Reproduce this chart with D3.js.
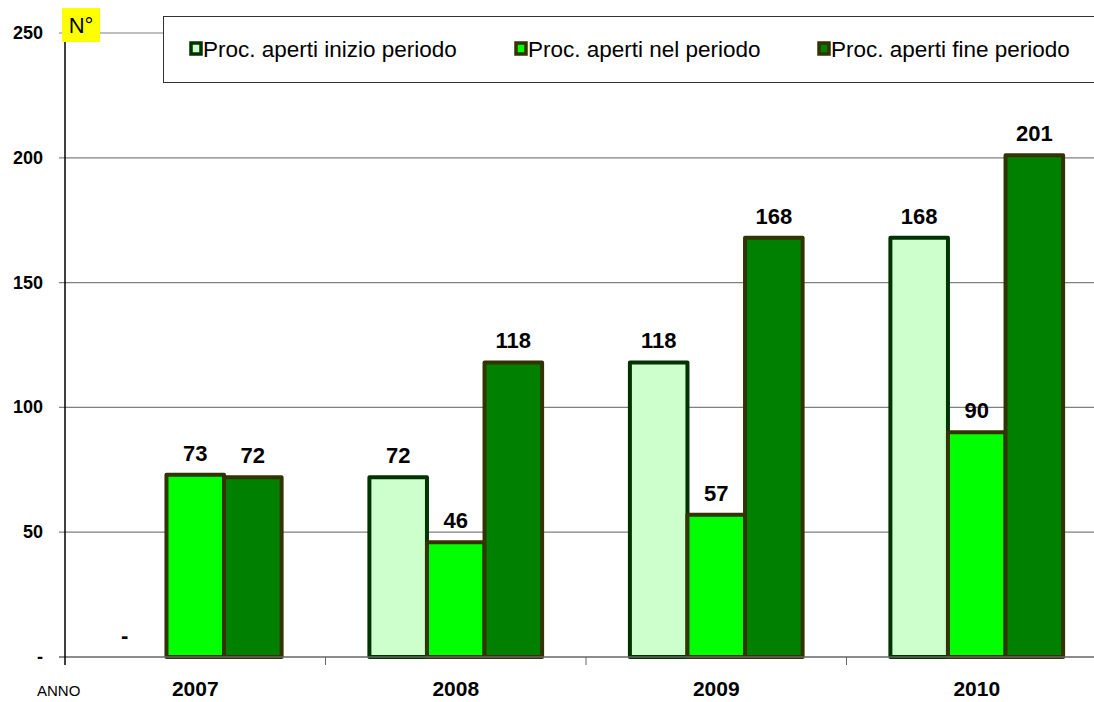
<!DOCTYPE html>
<html>
<head>
<meta charset="utf-8">
<script src="https://cdn.jsdelivr.net/npm/d3@7"></script>
<style>
  body { margin: 0; background: #fff; }
  text { font-family: "Liberation Sans", Arial, sans-serif; }
</style>
</head>
<body>
<div id="chart"></div>
<script>
let years = ['2007', '2008', '2009', '2010']
let series = ['Proc. aperti inizio periodo', 'Proc. aperti nel periodo', 'Proc. aperti fine periodo']
let inizio = [0, 72, 118, 168]
let nel = [73, 46, 57, 90]
let fine = [72, 118, 168, 201]
let yTicks = [0, 50, 100, 150, 200, 250]

let fills = ['#ccffcc', '#00ff00', '#008000']
let strokes = ['#003300', '#333300', '#333300']

let w_full = 1094
let h_full = 702
let margin = {top: 33, left: 65}
let plot_right = 1107
let plot_bottom = 657

let values = [inizio, nel, fine]
let data = []
years.forEach(function(yr, i) {
    series.forEach(function(s, j) {
        data.push({year: yr, series: s, idx: j, value: values[j][i]})
    })
})

const svg = d3.select('#chart')
    .append('svg')
    .attr('width', w_full)
    .attr('height', h_full)

const x = d3.scaleBand()
    .domain(years)
    .range([margin.left, plot_right])
    .paddingInner(0.337)
    .paddingOuter(0.1685)

const xSub = d3.scaleBand()
    .domain(series)
    .range([0, x.bandwidth()])

const y = d3.scaleLinear()
    .domain([0, 250])
    .range([plot_bottom, margin.top])

// gridlines
svg.append('g')
    .selectAll('line')
    .data(yTicks.filter(d => d > 0))
    .join('line')
    .attr('x1', margin.left - 6)
    .attr('x2', plot_right)
    .attr('y1', d => y(d))
    .attr('y2', d => y(d))
    .attr('stroke', '#808080')
    .attr('stroke-width', 1.2)

// y tick labels
svg.append('g')
    .selectAll('text')
    .data(yTicks)
    .join('text')
    .attr('x', 43)
    .attr('y', d => y(d) + 6)
    .attr('text-anchor', 'end')
    .style('font-weight', 'bold')
    .style('font-size', '18px')
    .text(d => d == 0 ? '-' : d)

// legend box (covers top gridline)
svg.append('rect')
    .attr('x', 163.5)
    .attr('y', 16.5)
    .attr('width', 1000)
    .attr('height', 66)
    .attr('fill', '#fff')
    .attr('stroke', '#333')
    .attr('stroke-width', 1)

let legendX = [189, 514, 817]
const legend = svg.append('g')
    .selectAll('g')
    .data(series)
    .join('g')
    .attr('transform', (d, i) => 'translate(' + legendX[i] + ',0)')

legend.append('rect')
    .attr('x', 2)
    .attr('y', 43)
    .attr('width', 10)
    .attr('height', 11)
    .attr('fill', (d, i) => fills[i])
    .attr('stroke', (d, i) => strokes[i])
    .attr('stroke-width', 3.5)

legend.append('text')
    .attr('x', 14)
    .attr('y', 57)
    .style('font-size', '22.5px')
    .text(d => d)

// bars
svg.append('g')
    .selectAll('rect')
    .data(data.filter(d => d.value > 0))
    .join('rect')
    .attr('x', d => x(d.year) + xSub(d.series))
    .attr('y', d => y(d.value))
    .attr('width', xSub.bandwidth())
    .attr('height', d => plot_bottom - y(d.value))
    .attr('fill', d => fills[d.idx])
    .attr('stroke', d => strokes[d.idx])
    .attr('stroke-width', 4)
    .attr('stroke-linejoin', 'round')

// value labels
svg.append('g')
    .selectAll('text')
    .data(data)
    .join('text')
    .attr('x', d => x(d.year) + xSub(d.series) + xSub.bandwidth() / 2 - (d.value == 0 ? 13 : 0))
    .attr('y', d => y(d.value) - 14)
    .attr('text-anchor', 'middle')
    .style('font-weight', 'bold')
    .style('font-size', '22px')
    .text(d => d.value == 0 ? '-' : d.value)

// baseline and category ticks
svg.append('line')
    .attr('x1', margin.left - 6)
    .attr('x2', plot_right)
    .attr('y1', plot_bottom)
    .attr('y2', plot_bottom)
    .attr('stroke', '#666')
    .attr('stroke-width', 1.5)

let boundaries = years.map(d => x(d) - x.step() * x.paddingInner() / 2)
svg.append('g')
    .selectAll('line')
    .data(boundaries.slice(1))
    .join('line')
    .attr('x1', d => d)
    .attr('x2', d => d)
    .attr('y1', plot_bottom)
    .attr('y2', plot_bottom + 8)
    .attr('stroke', '#666')
    .attr('stroke-width', 1)

// y axis line
svg.append('line')
    .attr('x1', margin.left)
    .attr('x2', margin.left)
    .attr('y1', margin.top)
    .attr('y2', plot_bottom + 8)
    .attr('stroke', '#000')
    .attr('stroke-width', 1.5)

// x labels
svg.append('g')
    .selectAll('text')
    .data(years)
    .join('text')
    .attr('x', d => x(d) + x.bandwidth() / 2)
    .attr('y', 696)
    .attr('text-anchor', 'middle')
    .style('font-weight', 'bold')
    .style('font-size', '21px')
    .text(d => d)

svg.append('text')
    .attr('x', 37)
    .attr('y', 696)
    .style('font-size', '15px')
    .text('ANNO')

// N° box
svg.append('rect')
    .attr('x', 62)
    .attr('y', 8)
    .attr('width', 38)
    .attr('height', 34)
    .attr('fill', '#ffff00')

svg.append('text')
    .attr('x', 81)
    .attr('y', 33)
    .attr('text-anchor', 'middle')
    .style('font-size', '22px')
    .text('N°')
</script>
</body>
</html>
